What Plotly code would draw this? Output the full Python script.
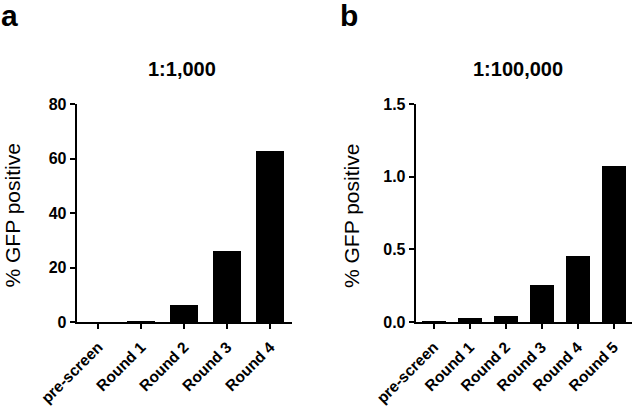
import plotly.graph_objects as go

cats_a = ["pre-screen", "Round 1", "Round 2", "Round 3", "Round 4"]
vals_a = [0.1, 0.5, 6.1, 26.2, 62.9]
cats_b = ["pre-screen", "Round 1", "Round 2", "Round 3", "Round 4", "Round 5"]
vals_b = [0.01, 0.03, 0.041, 0.257, 0.456, 1.073]
yticks_a = [0, 20, 40, 60, 80]
yticks_b = [0, 0.5, 1.0, 1.5]
ytick_text_b = ["0.0", "0.5", "1.0", "1.5"]

W, H = 633, 407
FONT = "Liberation Sans, Arial, sans-serif"

fig = go.Figure()
fig.add_trace(go.Bar(x=list(range(len(cats_a))), y=vals_a, marker=dict(color="black", line=dict(width=0)),
                     width=0.66, xaxis="x", yaxis="y", showlegend=False, hoverinfo="skip"))
fig.add_trace(go.Bar(x=list(range(len(cats_b))), y=vals_b, marker=dict(color="black", line=dict(width=0)),
                     width=0.66, xaxis="x2", yaxis="y2", showlegend=False, hoverinfo="skip"))

def px_x(p):
    return p / W

def px_y(p):
    return (H - p) / H

ytickfont = dict(family=FONT, size=16, color="black", weight="bold")
xtickfont = dict(family=FONT, size=15.5, color="black", weight="bold")
common_x = dict(showline=True, linecolor="black", linewidth=2, ticks="outside", ticklen=5, tickwidth=2,
                tickcolor="black", tickangle=-45, tickfont=xtickfont, showgrid=False, zeroline=False,
                automargin=False, ticklabelstandoff=3)
common_y = dict(showline=True, linecolor="black", linewidth=2, ticks="outside", ticklen=5, tickwidth=2,
                tickcolor="black", tickfont=ytickfont, showgrid=False, zeroline=False, automargin=False)

yb, yt = px_y(322), px_y(104)
fig.update_layout(
    template="none",
    width=W, height=H, margin=dict(l=0, r=0, t=0, b=0, pad=0), autosize=False,
    paper_bgcolor="white", plot_bgcolor="white", bargap=0,
    xaxis=dict(domain=[px_x(76.7), px_x(291.7)], range=[-0.5, 4.5], anchor="y",
               tickvals=list(range(len(cats_a))), ticktext=cats_a, **common_x),
    yaxis=dict(domain=[yb, yt], range=[0, 80], anchor="x", tickvals=yticks_a, **common_y),
    xaxis2=dict(domain=[px_x(415.7), px_x(631.7)], range=[-0.5, 5.5], anchor="y2",
                tickvals=list(range(len(cats_b))), ticktext=cats_b, **common_x),
    yaxis2=dict(domain=[yb, yt], range=[0, 1.5], anchor="x2", tickvals=yticks_b, ticktext=ytick_text_b, **common_y),
    annotations=[
        dict(text="<b>a</b>", x=px_x(9), y=px_y(15), xref="paper", yref="paper", xanchor="center", yanchor="middle",
             showarrow=False, borderpad=0, font=dict(family=FONT, size=30, color="black")),
        dict(text="<b>b</b>", x=px_x(349), y=px_y(15), xref="paper", yref="paper", xanchor="center", yanchor="middle",
             showarrow=False, borderpad=0, font=dict(family=FONT, size=30, color="black")),
        dict(text="<b>1:1,000</b>", x=px_x(182), y=px_y(69), xref="paper", yref="paper", xanchor="center", yanchor="middle",
             showarrow=False, font=dict(family=FONT, size=20, color="black")),
        dict(text="<b>1:100,000</b>", x=px_x(518), y=px_y(69), xref="paper", yref="paper", xanchor="center", yanchor="middle",
             showarrow=False, font=dict(family=FONT, size=20, color="black")),
        dict(text="% GFP positive", x=px_x(12.5), y=px_y(216), xref="paper", yref="paper", xanchor="center", yanchor="middle",
             textangle=-90, showarrow=False, font=dict(family=FONT, size=21, color="black")),
        dict(text="% GFP positive", x=px_x(352), y=px_y(216), xref="paper", yref="paper", xanchor="center", yanchor="middle",
             textangle=-90, showarrow=False, font=dict(family=FONT, size=21, color="black")),
    ],
)

fig.write_html("out.html", config={"displayModeBar": False, "staticPlot": True},
               post_script="document.body.style.margin='0px';document.body.style.overflow='hidden';")
